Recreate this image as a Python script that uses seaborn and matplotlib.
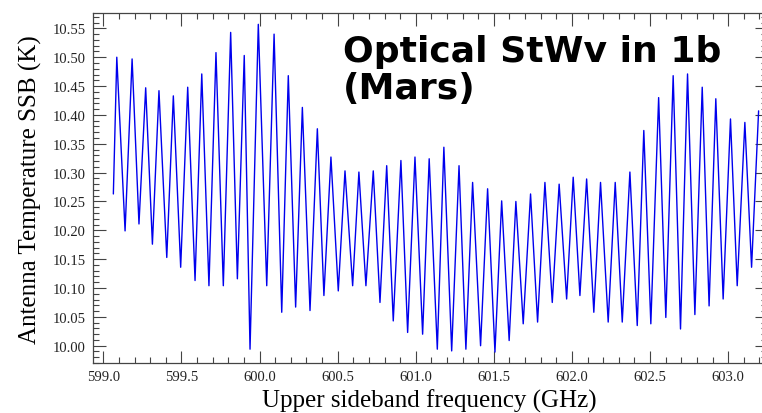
import matplotlib
matplotlib.use("Agg")
import matplotlib.pyplot as plt
from matplotlib.ticker import MultipleLocator, FormatStrFormatter
import seaborn as sns
import pandas as pd

# Turning points of the standing-wave ripple (start, then alternating peak / trough)
freq_ghz = [
    599.064, 599.086, 599.139, 599.184, 599.228, 599.271, 599.314, 599.356,
    599.406, 599.448, 599.495, 599.540, 599.587, 599.630, 599.676, 599.721,
    599.768, 599.815, 599.858, 599.902, 599.939, 599.992, 600.046, 600.093,
    600.142, 600.184, 600.231, 600.274, 600.323, 600.370, 600.412, 600.457,
    600.504, 600.547, 600.596, 600.636, 600.681, 600.728, 600.771, 600.814,
    600.856, 600.905, 600.948, 600.995, 601.044, 601.086, 601.138, 601.180,
    601.230, 601.277, 601.321, 601.364, 601.415, 601.460, 601.507, 601.550,
    601.598, 601.641, 601.688, 601.735, 601.780, 601.827, 601.874, 601.918,
    601.966, 602.008, 602.051, 602.094, 602.140, 602.183, 602.232, 602.277,
    602.322, 602.371, 602.418, 602.460, 602.505, 602.555, 602.601, 602.648,
    602.695, 602.740, 602.787, 602.834, 602.878, 602.921, 602.968, 603.015,
    603.058, 603.107, 603.150, 603.195,
]
temp_k = [
    10.263, 10.500, 10.199, 10.497, 10.211, 10.447, 10.176, 10.442,
    10.153, 10.433, 10.136, 10.448, 10.113, 10.471, 10.104, 10.508,
    10.104, 10.543, 10.116, 10.503, 9.994, 10.557, 10.104, 10.540,
    10.058, 10.468, 10.067, 10.413, 10.061, 10.376, 10.087, 10.327,
    10.095, 10.303, 10.104, 10.301, 10.104, 10.303, 10.075, 10.312,
    10.043, 10.321, 10.023, 10.327, 10.020, 10.324, 9.994, 10.344,
    9.991, 10.312, 9.994, 10.283, 10.000, 10.272, 9.989, 10.251,
    10.009, 10.250, 10.038, 10.263, 10.041, 10.283, 10.075, 10.280,
    10.081, 10.292, 10.087, 10.289, 10.058, 10.283, 10.041, 10.283,
    10.041, 10.301, 10.035, 10.373, 10.038, 10.430, 10.049, 10.468,
    10.029, 10.471, 10.054, 10.448, 10.069, 10.428, 10.081, 10.393,
    10.104, 10.387, 10.136, 10.407,
]

x_label = "Upper sideband frequency (GHz)"
y_label = "Antenna Temperature SSB (K)"
title_text = "Optical StWv in 1b\n(Mars)"

df = pd.DataFrame({"freq": freq_ghz, "temp": temp_k})

sns.set_style("white")
plt.rcParams["font.family"] = ["Liberation Serif", "DejaVu Serif"]
plt.rcParams["text.color"] = "black"
plt.rcParams["axes.labelcolor"] = "black"
plt.rcParams["xtick.color"] = "#333333"
plt.rcParams["ytick.color"] = "#333333"

fig = plt.figure(figsize=(7.62, 4.14), dpi=100)
# right spine sits just past the canvas edge
ax = fig.add_axes([0.1217, 0.120, 1.0 - 0.1217 + 0.006, 0.966 - 0.120])

sns.lineplot(data=df, x="freq", y="temp", ax=ax, color="#0000ee",
             linewidth=1.0, estimator=None, sort=False)

ax.set_xlim(598.932, 603.246)
ax.set_ylim(9.9695, 10.5765)

ax.xaxis.set_major_locator(MultipleLocator(0.5))
ax.xaxis.set_minor_locator(MultipleLocator(0.1))
ax.yaxis.set_major_locator(MultipleLocator(0.05))
ax.yaxis.set_minor_locator(MultipleLocator(0.01))
ax.xaxis.set_major_formatter(FormatStrFormatter("%.1f"))
ax.yaxis.set_major_formatter(FormatStrFormatter("%.2f"))

for spine in ax.spines.values():
    spine.set_color("#444444")
    spine.set_linewidth(0.9)

ax.tick_params(which="both", direction="in", bottom=True, top=True,
               left=True, right=True, color="#444444", width=0.8,
               labelcolor="#222222")
ax.tick_params(which="major", length=9, labelsize=10.5, pad=5)
ax.tick_params(which="minor", length=4.6)

ax.set_xlabel(x_label, fontsize=18, labelpad=4)
ax.set_ylabel(y_label, fontsize=18, labelpad=8)

fig.text(343 / 762, 1 - 35 / 414, title_text, ha="left", va="top",
         fontsize=26, fontweight="bold", family="DejaVu Sans",
         color="black", linespacing=1.12)

fig.savefig("out.png", dpi=100, facecolor="white")
